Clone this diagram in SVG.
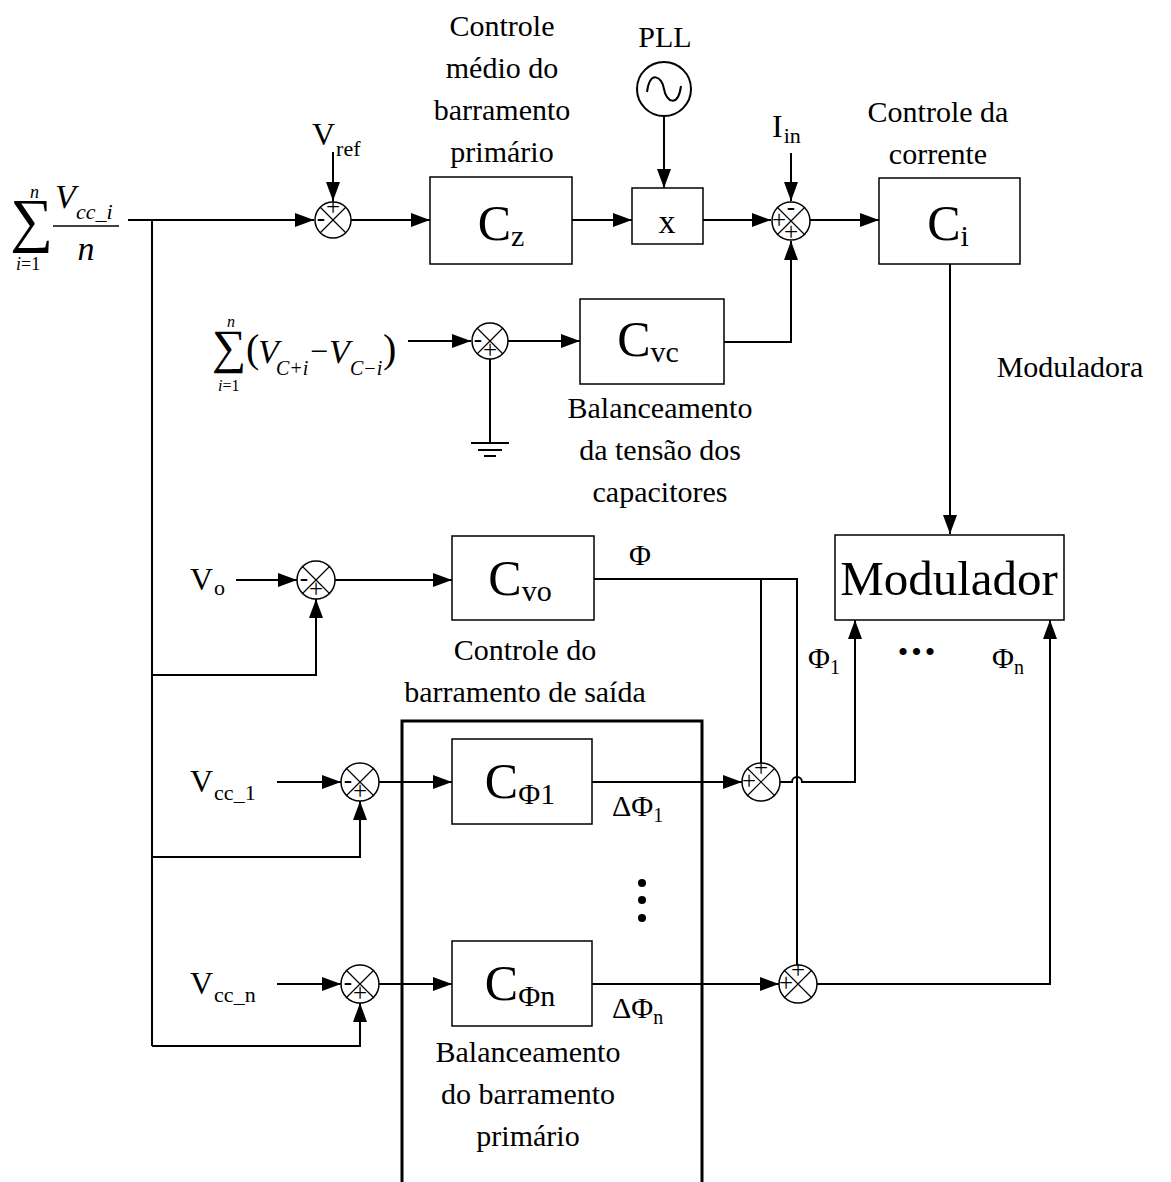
<svg xmlns="http://www.w3.org/2000/svg" width="1171" height="1182" viewBox="0 0 1171 1182">
<style>
text{font-family:"Liberation Serif","Times New Roman",serif;fill:#000}
.t{font-size:30px}
.v{font-size:32px}
.c{text-anchor:middle}
.big{font-size:50px}
.sub{font-size:30px}
.w{fill:none;stroke:#000;stroke-width:2}
.box{fill:#fff;stroke:#000;stroke-width:1.5}
.j{fill:#fff;stroke:#000;stroke-width:1.5}
.x{stroke:#000;stroke-width:1.2}
.g{font-size:25px;text-anchor:middle}
.i{font-style:italic}
</style>
<defs>
<marker id="a" markerWidth="19" markerHeight="14" refX="19" refY="7" orient="auto" markerUnits="userSpaceOnUse"><path d="M0,0 L19,7 L0,14 z" fill="#000"/></marker>
</defs>

<g id="connectors">
<path class="w" d="M128,220 H314" marker-end="url(#a)"/>
<path class="w" d="M152,220 V1046"/>
<path class="w" d="M333,152 V201" marker-end="url(#a)"/>
<path class="w" d="M351,220 H430" marker-end="url(#a)"/>
<path class="w" d="M572,220 H632" marker-end="url(#a)"/>
<path class="w" d="M664,116 V188" marker-end="url(#a)"/>
<path class="w" d="M703,220 H771" marker-end="url(#a)"/>
<path class="w" d="M791,153 V201" marker-end="url(#a)"/>
<path class="w" d="M810,220 H879" marker-end="url(#a)"/>
<path class="w" d="M724,342 H791 V241" marker-end="url(#a)"/>
<path class="w" d="M408,341 H471" marker-end="url(#a)"/>
<path class="w" d="M490,359 V443"/>
<path class="w" d="M471,443 H509 M478,450 H502 M484,456 H496"/>
<path class="w" d="M508,341 H580" marker-end="url(#a)"/>
<path class="w" d="M950,264 V534" marker-end="url(#a)"/>
<path class="w" d="M236,580 H297" marker-end="url(#a)"/>
<path class="w" d="M152,675 H316 V599" marker-end="url(#a)"/>
<path class="w" d="M335,580 H452" marker-end="url(#a)"/>
<path class="w" d="M594,579 H797 V965"/>
<path class="w" d="M761,579 V763"/>
<path class="w" d="M780,782 H792 A5,5 0 0 1 802,782 H855 V620" marker-end="url(#a)"/>
<path class="w" d="M277,782 H341" marker-end="url(#a)"/>
<path class="w" d="M152,857 H360 V801" marker-end="url(#a)"/>
<path class="w" d="M379,782 H452" marker-end="url(#a)"/>
<path class="w" d="M592,782 H742" marker-end="url(#a)"/>
<path class="w" d="M277,984 H341" marker-end="url(#a)"/>
<path class="w" d="M152,1046 H360 V1003" marker-end="url(#a)"/>
<path class="w" d="M379,984 H452" marker-end="url(#a)"/>
<path class="w" d="M592,984 H779" marker-end="url(#a)"/>
<path class="w" d="M817,984 H1050 V620" marker-end="url(#a)"/>
<path d="M402,1182 V721 H702 V1182" fill="none" stroke="#000" stroke-width="3"/>
</g>

<g id="sum-input">
<text x="10" y="240" font-size="60">∑</text>
<text x="30" y="198" class="i" font-size="18">n</text>
<text x="16" y="270" font-size="18"><tspan class="i">i</tspan>=1</text>
<text x="55" y="208" class="i" font-size="34">V</text>
<text x="76" y="219" class="i" font-size="22">cc_i</text>
<path d="M53,226 H119" stroke="#000" stroke-width="1.5"/>
<text x="86" y="260" class="i c" font-size="34">n</text>
</g>

<g id="j1">
<circle class="j" cx="333" cy="220" r="18"/>
<path class="x" d="M320,207 L346,233 M346,207 L320,233"/>
<text x="321" y="226" class="g">-</text>
<text x="333" y="215" class="g">+</text>
</g>
<g id="vref"><text x="312" y="145" class="v">V<tspan font-size="22" dx="1" dy="11">ref</tspan></text></g>

<g id="cz">
<rect class="box" x="430" y="177" width="142" height="87"/>
<text x="501" y="240" class="c big">C<tspan class="sub" dy="6">z</tspan></text>
</g>
<g id="lbl-cz">
<text x="502" y="36" class="t c">Controle</text>
<text x="502" y="78" class="t c">médio do</text>
<text x="502" y="120" class="t c">barramento</text>
<text x="502" y="162" class="t c">primário</text>
</g>

<g id="pll">
<text x="665" y="47" class="t c">PLL</text>
<circle cx="664" cy="89" r="27" fill="#fff" stroke="#000" stroke-width="2"/>
<path d="M647,92 C650,70 662,76 664,89 C666,102 678,108 681,86" fill="none" stroke="#000" stroke-width="2"/>
</g>
<g id="mult">
<rect class="box" x="632" y="188" width="71" height="56"/>
<text x="667" y="233" class="c" font-size="34">x</text>
</g>

<g id="j2">
<circle class="j" cx="791" cy="221" r="19"/>
<path class="x" d="M777,207 L805,235 M805,207 L777,235"/>
<text x="791" y="215" class="g">-</text>
<text x="779" y="228" class="g">+</text>
<text x="791" y="240" class="g">+</text>
</g>
<g id="iin"><text x="772" y="137" class="v">I<tspan font-size="22" dx="1" dy="6">in</tspan></text></g>

<g id="ci">
<rect class="box" x="879" y="178" width="141" height="86"/>
<text x="948" y="240" class="c big">C<tspan class="sub" dy="6">i</tspan></text>
</g>
<g id="lbl-ci">
<text x="938" y="122" class="t c">Controle da</text>
<text x="938" y="164" class="t c">corrente</text>
</g>
<text x="1070" y="377" class="t c">Moduladora</text>

<g id="sum2">
<text x="212" y="363" font-size="48">∑</text>
<text x="227" y="327" class="i" font-size="16">n</text>
<text x="218" y="391" font-size="16"><tspan class="i">i</tspan>=1</text>
<text x="246" y="362" font-size="40">(</text>
<text x="258" y="363" class="i" font-size="34">V</text>
<text x="276" y="375" class="i" font-size="20">C+i</text>
<text x="310" y="362" font-size="32">−</text>
<text x="329" y="363" class="i" font-size="34">V</text>
<text x="350" y="375" class="i" font-size="20">C−i</text>
<text x="383" y="362" font-size="40">)</text>
</g>
<g id="j3">
<circle class="j" cx="490" cy="341" r="18"/>
<path class="x" d="M477,328 L503,354 M503,328 L477,354"/>
<text x="478" y="347" class="g">-</text>
<text x="490" y="358" class="g">+</text>
</g>
<g id="cvc">
<rect class="box" x="580" y="299" width="144" height="85"/>
<text x="648" y="356" class="c big">C<tspan class="sub" dy="6">vc</tspan></text>
</g>
<g id="lbl-cvc">
<text x="660" y="418" class="t c">Balanceamento</text>
<text x="660" y="460" class="t c">da tensão dos</text>
<text x="660" y="502" class="t c">capacitores</text>
</g>

<g id="modulador">
<rect class="box" x="835" y="535" width="229" height="85"/>
<text x="949" y="595" class="c" font-size="49">Modulador</text>
</g>

<g id="vo"><text x="190" y="590" class="v">V<tspan font-size="22" dx="1" dy="5">o</tspan></text></g>
<g id="j4">
<circle class="j" cx="316" cy="580" r="19"/>
<path class="x" d="M302,566 L330,594 M330,566 L302,594"/>
<text x="304" y="586" class="g">-</text>
<text x="316" y="597" class="g">+</text>
</g>
<g id="cvo">
<rect class="box" x="452" y="536" width="142" height="84"/>
<text x="520" y="595" class="c big">C<tspan class="sub" dy="6">vo</tspan></text>
</g>
<g id="lbl-cvo">
<text x="525" y="660" class="t c">Controle do</text>
<text x="525" y="702" class="t c">barramento de saída</text>
</g>
<text x="640" y="565" class="t c">Φ</text>
<text x="808" y="668" class="t">Φ<tspan font-size="20" dy="6">1</tspan></text>
<text x="918" y="662" class="c" font-size="30" letter-spacing="3">•••</text>
<text x="992" y="668" class="t">Φ<tspan font-size="20" dy="6">n</tspan></text>

<g id="vcc1"><text x="190" y="792" class="v">V<tspan font-size="22" dx="1" dy="8">cc_1</tspan></text></g>
<g id="j5">
<circle class="j" cx="360" cy="782" r="19"/>
<path class="x" d="M346,768 L374,796 M374,768 L346,796"/>
<text x="348" y="788" class="g">-</text>
<text x="360" y="799" class="g">+</text>
</g>
<g id="cphi1">
<rect class="box" x="452" y="739" width="140" height="85"/>
<text x="520" y="798" class="c big">C<tspan class="sub" dy="6">Φ1</tspan></text>
</g>
<text x="612" y="816" class="t">ΔΦ<tspan font-size="20" dy="6">1</tspan></text>
<g id="j6">
<circle class="j" cx="761" cy="782" r="19"/>
<path class="x" d="M747,768 L775,796 M775,768 L747,796"/>
<text x="761" y="776" class="g">+</text>
<text x="749" y="789" class="g">+</text>
</g>
<g id="vdots">
<circle cx="642" cy="883" r="4"/>
<circle cx="642" cy="900" r="4"/>
<circle cx="642" cy="918" r="4"/>
</g>

<g id="vccn"><text x="190" y="994" class="v">V<tspan font-size="22" dx="1" dy="8">cc_n</tspan></text></g>
<g id="j7">
<circle class="j" cx="360" cy="984" r="19"/>
<path class="x" d="M346,970 L374,998 M374,970 L346,998"/>
<text x="348" y="990" class="g">-</text>
<text x="360" y="1001" class="g">+</text>
</g>
<g id="cphin">
<rect class="box" x="452" y="941" width="140" height="85"/>
<text x="520" y="1000" class="c big">C<tspan class="sub" dy="6">Φn</tspan></text>
</g>
<text x="612" y="1018" class="t">ΔΦ<tspan font-size="20" dy="6">n</tspan></text>
<g id="j8">
<circle class="j" cx="798" cy="984" r="19"/>
<path class="x" d="M784,970 L812,998 M812,970 L784,998"/>
<text x="798" y="978" class="g">+</text>
<text x="786" y="991" class="g">+</text>
</g>
<g id="lbl-bal">
<text x="528" y="1062" class="t c">Balanceamento</text>
<text x="528" y="1104" class="t c">do barramento</text>
<text x="528" y="1146" class="t c">primário</text>
</g>
</svg>
